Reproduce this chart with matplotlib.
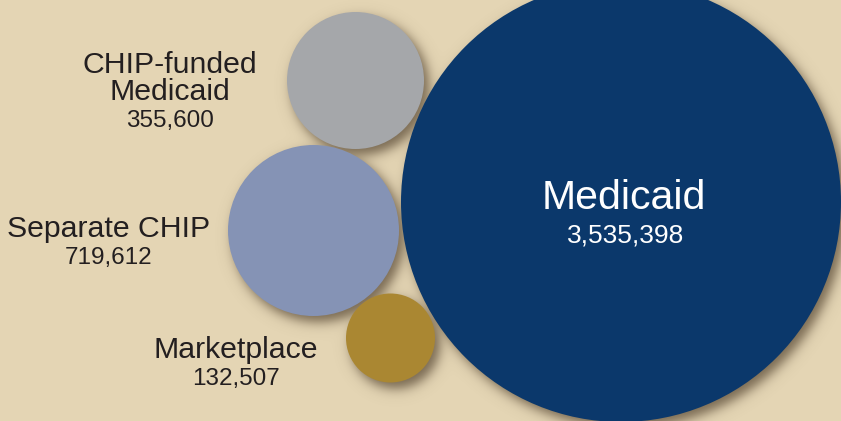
import numpy as np
import matplotlib
matplotlib.use("Agg")
from matplotlib import pyplot as plt
from matplotlib.patches import Circle

# data
programs = ["Medicaid", "CHIP-funded\nMedicaid", "Separate CHIP", "Marketplace"]
enrollment = [3535398, 355600, 719612, 132507]
colors = ["#0B386B", "#A5A7AA", "#8593B5", "#AA8732"]

# layout in pixels: bubble centre + radius, label anchor (baseline)
bubbles = [(621, 202, 220), (355.5, 80.5, 68.5), (313.5, 230.5, 85.5), (390.5, 338, 44.5)]
label_pos = [(624, 209), (170, 100), (109, 237), (236, 358)]

W, H = 841, 421
BG = "#E4D5B4"

plt.rcParams['font.family'] = ['Liberation Sans', 'DejaVu Sans']

fig = plt.figure(figsize=(W / 100, H / 100), dpi=100, facecolor=BG)
ax = fig.add_axes([0, 0, 1, 1])
ax.set_xlim(0, W)
ax.set_ylim(H, 0)
ax.set_facecolor(BG)
ax.axis('off')

# soft drop shadows
yy, xx = np.mgrid[0:H, 0:W] + 0.5
keep = np.ones((H, W))
for cx, cy, r in bubbles:
    d = np.hypot(xx - (cx + 5), yy - (cy + 6))
    a = 0.75 / (1 + np.exp((d - r) / 3.5))
    keep *= (1 - a)
shadow = np.zeros((H, W, 4))
shadow[..., 0] = 0.33
shadow[..., 1] = 0.27
shadow[..., 2] = 0.19
shadow[..., 3] = 1 - keep
ax.imshow(shadow, extent=[0, W, H, 0], zorder=1, interpolation='bilinear')

for (cx, cy, r), c in zip(bubbles, colors):
    ax.add_patch(Circle((cx, cy), r, facecolor=c, edgecolor='none', zorder=2))

# labels
for i, (name, val) in enumerate(zip(programs, enrollment)):
    x, y = label_pos[i]
    if i == 0:
        ax.text(x, y, name, color='white', fontsize=29.5, ha='center', va='baseline', zorder=3)
        ax.text(x + 2, y + 33, f"{val:,}", color='white', fontsize=19, ha='center', va='baseline', zorder=3)
    else:
        lines = name.split("\n")
        for k, ln in enumerate(reversed(lines)):
            ax.text(x, y - 27 * k, ln, color='#231F20', fontsize=21.8, ha='center', va='baseline', zorder=3)
        ax.text(x, y + 27, f"{val:,}", color='#231F20', fontsize=17.5, ha='center', va='baseline', zorder=3)

fig.savefig("out.png", dpi=100, facecolor=BG)
